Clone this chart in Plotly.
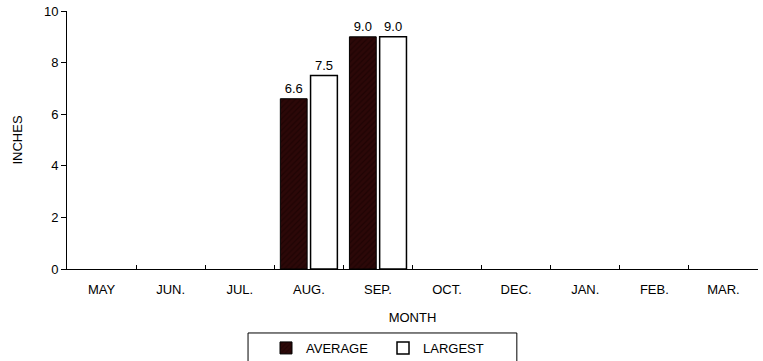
import plotly.graph_objects as go

MONTHS = ["MAY", "JUN.", "JUL.", "AUG.", "SEP.", "OCT.", "DEC.", "JAN.", "FEB.", "MAR."]
AVERAGE = [None, None, None, 6.6, 9.0, None, None, None, None, None]
LARGEST = [None, None, None, 7.5, 9.0, None, None, None, None, None]

FONT = "Liberation Sans, Arial, sans-serif"


def labels(vals):
    return ["" if v is None else f"{v:.1f}" for v in vals]


fig = go.Figure()
fig.add_trace(go.Bar(
    x=MONTHS, y=AVERAGE, name="AVERAGE", text=labels(AVERAGE), textposition="outside",
    marker={"color": "#2c0808", "line": {"color": "#000000", "width": 1},
            "pattern": {"shape": "/", "fgcolor": "#120000", "size": 4, "solidity": 0.3}},
    textfont={"size": 13},
    cliponaxis=False,
))
fig.add_trace(go.Bar(
    x=MONTHS, y=LARGEST, name="LARGEST", text=labels(LARGEST), textposition="outside",
    marker={"color": "#ffffff", "line": {"color": "#000000", "width": 1.5}},
    textfont={"size": 13},
    cliponaxis=False,
))

fig.update_layout(
    width=763, height=361,
    paper_bgcolor="white", plot_bgcolor="white",
    font={"family": FONT, "size": 12, "color": "#000000"},
    margin={"l": 67, "r": 5, "t": 11, "b": 92, "autoexpand": False},
    barmode="group", bargap=0.125, bargroupgap=0.113,
    showlegend=True,
    legend={
        "orientation": "h", "x": 0.288, "xanchor": "left", "y": -0.248, "yanchor": "top",
        "borderwidth": 0, "bgcolor": "rgba(0,0,0,0)",
        "entrywidth": 72, "font": {"size": 13},
    },
    shapes=[{
        "type": "rect", "xref": "paper", "yref": "paper",
        "x0": 0.262, "x1": 0.651, "y0": -0.248, "y1": -0.45,
        "line": {"color": "#000000", "width": 1}, "fillcolor": "rgba(0,0,0,0)",
    }],
    xaxis={
        "title": {"text": "MONTH", "standoff": 17, "font": {"size": 13}},
        "automargin": False,
        "showline": True, "linecolor": "#000000", "linewidth": 1,
        "ticks": "inside", "tickson": "boundaries", "ticklen": 4, "tickcolor": "#000000",
        "ticklabelstandoff": 8, "tickfont": {"size": 13},
        "showgrid": False,
    },
    yaxis={
        "title": {"text": "INCHES", "standoff": 18, "font": {"size": 13}},
        "automargin": False,
        "range": [0, 10], "dtick": 2,
        "showline": True, "linecolor": "#000000", "linewidth": 1,
        "ticks": "outside", "ticklen": 5, "tickcolor": "#000000",
        "tickfont": {"size": 13},
        "showgrid": False, "zeroline": False,
    },
    uniformtext={"minsize": 13, "mode": "show"},
)

fig.write_html("out.html", config={"displayModeBar": False},
               post_script="document.body.style.margin = '0';")
